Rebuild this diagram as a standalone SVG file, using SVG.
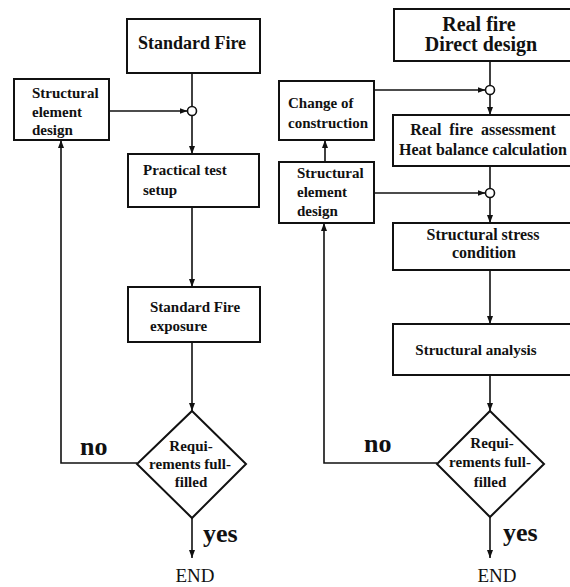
<svg xmlns="http://www.w3.org/2000/svg" width="570" height="587" viewBox="0 0 570 587">
<defs>
<marker id="ah" markerUnits="userSpaceOnUse" markerWidth="9" markerHeight="7" refX="8" refY="3" orient="auto">
<path d="M0,0 L8,3 L0,6 z" fill="#111"/>
</marker>
<style>
.box{fill:#fff;stroke:#111;stroke-width:2}
.ln{fill:none;stroke:#111;stroke-width:1.6}
.ar{fill:none;stroke:#111;stroke-width:1.6;marker-end:url(#ah)}
.jn{fill:#fff;stroke:#111;stroke-width:1.6}
text{fill:#111;font-weight:bold}
.t15{font-size:15px}
.t16{font-size:16px}
.big{font-size:18px}
.big20{font-size:20px}
.yn{font-size:26px}
.end{font-size:19px;font-weight:normal}
.m{text-anchor:middle}
</style>
</defs>
<rect width="570" height="587" fill="#fff"/>

<g id="connectors">
<line class="ln" x1="192" y1="73" x2="192" y2="106.5"/>
<line class="ar" x1="192" y1="115.5" x2="192" y2="154"/>
<line class="ar" x1="109" y1="111" x2="187.5" y2="111"/>
<line class="ar" x1="192" y1="207" x2="192" y2="287"/>
<line class="ar" x1="192" y1="342" x2="192" y2="411"/>
<polyline class="ar" points="137,463 61,463 61,140"/>
<line class="ar" x1="192" y1="518" x2="192" y2="558"/>

<line class="ln" x1="490" y1="61" x2="490" y2="85.5"/>
<line class="ar" x1="490" y1="94.5" x2="490" y2="115"/>
<line class="ar" x1="374" y1="90" x2="485.5" y2="90"/>
<line class="ln" x1="490" y1="166" x2="490" y2="188.5"/>
<line class="ar" x1="490" y1="197.5" x2="490" y2="223"/>
<line class="ar" x1="374" y1="193" x2="485.5" y2="193"/>
<line class="ar" x1="325" y1="162" x2="325" y2="140"/>
<line class="ar" x1="490" y1="270" x2="490" y2="324"/>
<line class="ar" x1="490" y1="375" x2="490" y2="411"/>
<polyline class="ar" points="437,463 324,463 324,223"/>
<line class="ar" x1="490" y1="517" x2="490" y2="558"/>
<circle class="jn" cx="192" cy="111" r="4.5"/>
<circle class="jn" cx="490" cy="90" r="4.5"/>
<circle class="jn" cx="490" cy="193" r="4.5"/>
</g>

<g font-family="Liberation Serif, DejaVu Serif, serif">
<g id="standard-fire">
<rect class="box" x="127" y="19" width="133" height="54"/>
<text class="big m" x="192" y="49">Standard Fire</text>
</g>
<g id="structural-element-design-left">
<rect class="box" x="14" y="79" width="95" height="61"/>
<text class="t15" x="32" y="98">Structural</text>
<text class="t15" x="32" y="117">element</text>
<text class="t15" x="32" y="135">design</text>
</g>
<g id="practical-test-setup">
<rect class="box" x="128" y="154" width="131" height="53"/>
<text class="t15" x="143" y="175">Practical test</text>
<text class="t15" x="143" y="195">setup</text>
</g>
<g id="standard-fire-exposure">
<rect class="box" x="128" y="287" width="132" height="55"/>
<text class="t15" x="150" y="312">Standard Fire</text>
<text class="t15" x="150" y="331">exposure</text>
</g>
<g id="requirements-left">
<polygon class="box" points="192,411 246,464 192,518 137,464"/>
<text class="t15 m" x="191" y="451">Requi-</text>
<text class="t15 m" x="190" y="469">rements full-</text>
<text class="t15 m" x="191" y="487">filled</text>
</g>
<text class="yn" x="80" y="455">no</text>
<text class="yn" x="203" y="542">yes</text>
<text class="end m" x="195" y="582">END</text>

<g id="real-fire">
<rect class="box" x="394" y="9" width="190" height="52"/>
<text class="big20 m" x="479" y="31">Real fire</text>
<text class="big20 m" x="481" y="51">Direct design</text>
</g>
<g id="change-of-construction">
<rect class="box" x="279" y="81" width="95" height="59"/>
<text class="t15" x="288" y="108">Change of</text>
<text class="t15" x="288" y="128">construction</text>
</g>
<g id="real-fire-assessment">
<rect class="box" x="393" y="115" width="190" height="51"/>
<text class="t16 m" x="483" y="135" style="white-space:pre">Real  fire  assessment</text>
<text class="t16 m" x="483" y="155">Heat balance calculation</text>
</g>
<g id="structural-element-design-right">
<rect class="box" x="279" y="162" width="95" height="61"/>
<text class="t15" x="297" y="178">Structural</text>
<text class="t15" x="297" y="197">element</text>
<text class="t15" x="297" y="216">design</text>
</g>
<g id="structural-stress-condition">
<rect class="box" x="393" y="223" width="190" height="47"/>
<text class="t16 m" x="483" y="240">Structural stress</text>
<text class="t16 m" x="484" y="258">condition</text>
</g>
<g id="structural-analysis">
<rect class="box" x="393" y="324" width="190" height="51"/>
<text class="t15 m" x="476" y="355">Structural analysis</text>
</g>
<g id="requirements-right">
<polygon class="box" points="490,411 544,464 490,517 437,464"/>
<text class="t15 m" x="492" y="448">Requi-</text>
<text class="t15 m" x="490" y="467">rements full-</text>
<text class="t15 m" x="490" y="487">filled</text>
</g>
<text class="yn" x="364" y="452">no</text>
<text class="yn" x="503" y="541">yes</text>
<text class="end m" x="497" y="582">END</text>
</g>
</svg>
